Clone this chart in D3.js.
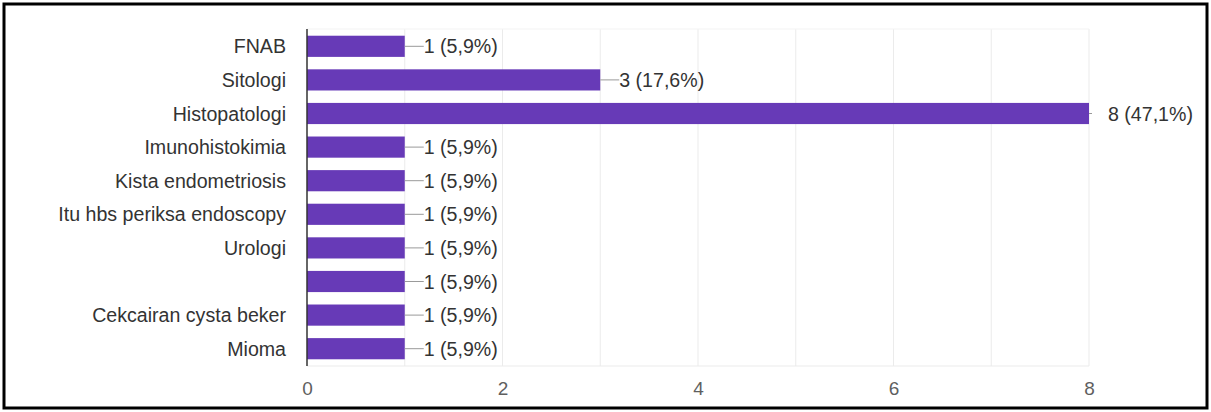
<!DOCTYPE html>
<html>
<head>
<meta charset="utf-8">
<script src="https://cdn.jsdelivr.net/npm/d3@7"></script>
<style>
  body { margin: 0; background: #fff; }
  svg { display: block; font-family: "Liberation Sans", Arial, sans-serif; }
</style>
</head>
<body>
<div id="chart"></div>
<script>
var categories = ["FNAB", "Sitologi", "Histopatologi", "Imunohistokimia", "Kista endometriosis",
  "Itu hbs periksa endoscopy", "Urologi", "", "Cekcairan cysta beker", "Mioma"];
var counts = [1, 3, 8, 1, 1, 1, 1, 1, 1, 1];
var labels = ["1 (5,9%)", "3 (17,6%)", "8 (47,1%)", "1 (5,9%)", "1 (5,9%)",
  "1 (5,9%)", "1 (5,9%)", "1 (5,9%)", "1 (5,9%)", "1 (5,9%)"];
var xTicks = [0, 2, 4, 6, 8];

var W = 1211, H = 412;
var margin = {top: 29, right: 122, bottom: 46, left: 307};
var width = W - margin.left - margin.right;
var height = H - margin.top - margin.bottom;
var fontSize = 19.6;

var svgRoot = d3.select("#chart").append("svg")
  .attr("width", W).attr("height", H);

svgRoot.append("rect")
  .attr("x", 4).attr("y", 4).attr("width", W - 8).attr("height", H - 8)
  .attr("fill", "#fff").attr("stroke", "#000").attr("stroke-width", 3);

var svg = svgRoot.append("g")
  .attr("transform", "translate(" + margin.left + "," + margin.top + ")");

var x = d3.scaleLinear().domain([0, 8]).range([0, width]);
var y = d3.scaleBand().domain(d3.range(categories.length)).range([0, height]).paddingInner(0.37).paddingOuter(0.2);

// grid
svg.append("g").selectAll("line")
  .data(d3.range(1, 9))
  .enter().append("line")
  .attr("x1", function(d) { return x(d); }).attr("x2", function(d) { return x(d); })
  .attr("y1", 0).attr("y2", height)
  .attr("stroke", "#ebebeb").attr("stroke-width", 1);
svg.append("line")
  .attr("x1", 0).attr("x2", width).attr("y1", height).attr("y2", height)
  .attr("stroke", "#ebebeb");
svg.append("line")
  .attr("x1", 0).attr("x2", width).attr("y1", 0).attr("y2", 0)
  .attr("stroke", "#f3f3f3");

// bars
svg.append("g").selectAll("rect")
  .data(counts)
  .enter().append("rect")
  .attr("x", x(0))
  .attr("y", function(d, i) { return y(i); })
  .attr("width", function(d) { return x(d) - x(0); })
  .attr("height", y.bandwidth())
  .attr("fill", "#673ab7");

// leader lines and value labels
var vl = svg.append("g").selectAll("g")
  .data(counts)
  .enter().append("g")
  .attr("transform", function(d, i) { return "translate(" + x(d) + "," + (y(i) + y.bandwidth() / 2) + ")"; });
vl.append("line")
  .attr("x1", 0).attr("x2", function(d) { return d === 8 ? 3 : 19; })
  .attr("stroke", "#999").attr("stroke-width", 1);
vl.append("text")
  .attr("x", 19)
  .attr("dy", "0.36em")
  .attr("font-size", fontSize)
  .attr("fill", "#333")
  .text(function(d, i) { return labels[i]; });

// category labels
svg.append("g").selectAll("text")
  .data(categories)
  .enter().append("text")
  .attr("x", -21)
  .attr("y", function(d, i) { return y(i) + y.bandwidth() / 2; })
  .attr("dy", "0.36em")
  .attr("text-anchor", "end")
  .attr("font-size", fontSize)
  .attr("fill", "#333")
  .text(function(d) { return d; });

// x axis labels
var xAxis = svg.append("g")
  .attr("transform", "translate(0," + height + ")")
  .call(d3.axisBottom(x).tickValues(xTicks).tickSize(0).tickPadding(16));
xAxis.select(".domain").remove();
xAxis.attr("font-size", null).attr("font-family", null);
xAxis.selectAll("text")
  .style("font-size", "19px")
  .style("font-family", "'Liberation Sans', Arial, sans-serif")
  .attr("fill", "#5f5f5f");

// y axis line
svg.append("line")
  .attr("x1", 0).attr("x2", 0).attr("y1", 0).attr("y2", height)
  .attr("stroke", "#333").attr("stroke-width", 1.5);
</script>
</body>
</html>
